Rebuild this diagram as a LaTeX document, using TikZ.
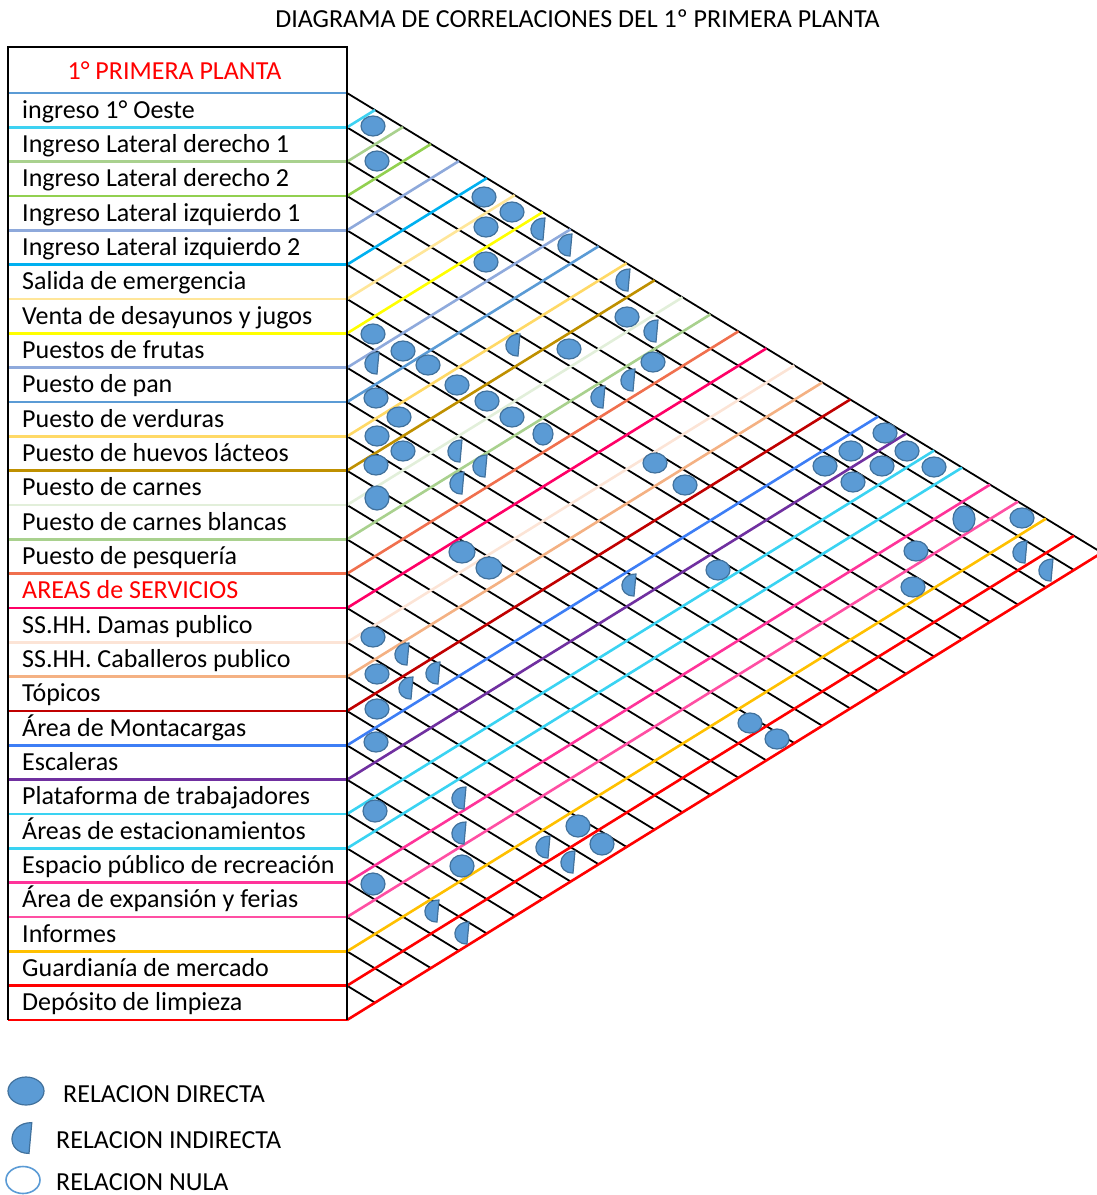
\documentclass[tikz,border=0pt]{standalone}
\usepackage{fontspec}
\setmainfont{Carlito}
\definecolor{symfill}{HTML}{5B9BD5}
\definecolor{symedge}{HTML}{41719C}
\definecolor{c0}{HTML}{5B9BD5}
\definecolor{c1}{HTML}{3ED2F2}
\definecolor{c2}{HTML}{A9D18E}
\definecolor{c3}{HTML}{92D050}
\definecolor{c4}{HTML}{8EA9DB}
\definecolor{c5}{HTML}{00B0F0}
\definecolor{c6}{HTML}{FFE699}
\definecolor{c7}{HTML}{FFFF00}
\definecolor{c8}{HTML}{8FAADC}
\definecolor{c9}{HTML}{5B9BD5}
\definecolor{c10}{HTML}{FFD966}
\definecolor{c11}{HTML}{BF9000}
\definecolor{c12}{HTML}{E2EFDA}
\definecolor{c13}{HTML}{A9D18E}
\definecolor{c14}{HTML}{F0704E}
\definecolor{c15}{HTML}{FF0066}
\definecolor{c16}{HTML}{FCE4D6}
\definecolor{c17}{HTML}{F4B183}
\definecolor{c18}{HTML}{C00000}
\definecolor{c19}{HTML}{3D7EF5}
\definecolor{c20}{HTML}{7030A0}
\definecolor{c21}{HTML}{3AD3F2}
\definecolor{c22}{HTML}{3AD3F2}
\definecolor{c23}{HTML}{FF3399}
\definecolor{c24}{HTML}{FF4FA3}
\definecolor{c25}{HTML}{FFC000}
\definecolor{c26}{HTML}{FF0000}
\definecolor{c27}{HTML}{FF0000}
\tikzset{
  sym/.style={fill=symfill,draw=symedge,line width=1.2pt},
  rowtxt/.style={anchor=base west,inner sep=0pt,font=\fontsize{26}{30}\selectfont},
  legtxt/.style={anchor=base west,inner sep=0pt,font=\fontsize{26}{30}\selectfont},
  blackgrid/.style={black,line width=1.8pt},
  colgrid/.style={line width=2.6pt},
  rowline/.style={line width=2.8pt},
  frame/.style={black,line width=1.8pt}
}
\newcommand\symD[2]{\path[sym] (#1,#2) ellipse [x radius=12pt,y radius=10pt];}
\newcommand\symDs[4]{\path[sym] (#1,#2) ellipse [x radius=#3pt,y radius=#4pt];}
\newcommand\symI[2]{\path[sym,shift={(#1,#2)}] (7,-11) -- (5,11) .. controls (-12,11) and (-11,-11) .. (7,-11) -- cycle;}
\begin{document}
\begin{tikzpicture}[x=1pt,y=-1pt]
\clip (0,0) rectangle (1097,1195);
\def\sa{0.609}
\def\sb{0.619}
% title
\node[anchor=base,inner sep=0pt,font=\fontsize{26}{30}\selectfont] (title) at (577.5,27) {DIAGRAMA DE CORRELACIONES DEL 1º PRIMERA PLANTA};
% grid: black lines going down-right
\foreach \j in {0,...,26}{
  \pgfmathsetmacro\yj{93+34.3333*\j}
  \pgfmathsetmacro\dx{(1020-\yj)/(\sa+\sb)}
  \pgfmathsetmacro\dy{\sa*\dx}
  \coordinate (b\j) at (347,\yj);
  \draw[blackgrid] (b\j) -- ++(\dx,\dy);
}
% grid: coloured lines going up-right
\foreach \j in {1,...,27}{
  \pgfmathsetmacro\yj{93+34.3333*\j}
  \pgfmathsetmacro\dx{(\yj-93)/(\sa+\sb)}
  \pgfmathsetmacro\dy{\sb*\dx}
  \coordinate (u\j) at (347,\yj);
  \draw[colgrid,color=c\j] (u\j) -- ++(\dx,-\dy);
}
% table row lines
\foreach \j in {0,...,27}{
  \pgfmathsetmacro\yj{93+34.3333*\j}
  \draw[rowline,color=c\j] (8,\yj) -- (347,\yj);
}
% frame
\draw[frame] (8,1020) -- (8,47) -- (347,47) -- (347,1020);
% header
\node[anchor=base,inner sep=0pt,font=\fontsize{26}{30}\selectfont,text=red] (head) at (174.5,79) {1° PRIMERA PLANTA};
% row labels
\foreach \i/\t in {1/{ingreso 1° Oeste},2/{Ingreso Lateral derecho 1},3/{Ingreso Lateral derecho 2},4/{Ingreso Lateral izquierdo 1},5/{Ingreso Lateral izquierdo 2},6/{Salida de emergencia},7/{Venta de desayunos y jugos},8/{Puestos de frutas},9/{Puesto de pan},10/{Puesto de verduras},11/{Puesto de huevos lácteos},12/{Puesto de carnes},13/{Puesto de carnes blancas},14/{Puesto de pesquería},16/{SS.HH. Damas publico},17/{SS.HH. Caballeros publico},18/{Tópicos},19/{Área de Montacargas},20/{Escaleras},21/{Plataforma de trabajadores},22/{Áreas de estacionamientos},23/{Espacio público de recreación},24/{Área de expansión y ferias},25/{Informes},26/{Guardianía de mercado},27/{Depósito de limpieza}}{
  \pgfmathsetmacro\yt{93+34.3333*(\i-0.5)+8}
  \node[rowtxt] (r\i) at (22,\yt) {\t};
}
\pgfmathsetmacro\yt{93+34.3333*14.5+8}
\node[rowtxt,text=red] (r15) at (22,\yt) {AREAS de SERVICIOS};
% direct relations
\symD{373}{126}\symD{377}{161}\symD{484}{197}\symD{512}{212}\symD{486}{227}
\symD{486}{262}\symD{627}{317}\symD{373}{334}\symD{403}{351}\symD{569}{349}
\symD{428}{365}\symD{653}{362}\symD{457}{385}\symD{376}{398}\symD{487}{401}
\symD{399}{417}\symD{512}{417}\symDs{543}{434}{10}{11}\symD{377}{436}\symD{403}{451}
\symD{376}{465}\symD{655}{463}\symD{685}{485}\symDs{377}{498}{12}{12}
\symDs{462}{552}{13}{11}\symDs{489}{568}{13}{11}
\symD{885}{433}\symD{851}{451}\symD{907}{451}\symD{825}{466}\symD{882}{466}
\symD{934}{467}\symD{853}{482}\symDs{964}{519}{11}{13}\symD{1022}{518}
\symD{916}{551}\symD{718}{570}\symD{913}{587}
\symD{373}{637}\symD{377}{674}\symD{377}{709}\symD{376}{742}
\symD{750}{723}\symD{777}{739}
\symDs{375}{811}{12}{11}\symDs{578}{826}{12}{11}\symDs{602}{844}{12}{11}
\symDs{462}{866}{12}{11}\symDs{373}{884}{12}{11}
% indirect relations
\symI{538}{229}\symI{565}{245}\symI{623}{280}\symI{651}{331}\symI{513}{345}
\symI{372}{363}\symI{628}{380}\symI{598}{397}\symI{455}{451}\symI{480}{466}
\symI{457}{483}\symI{629}{585}\symI{1020}{552}\symI{1046}{570}
\symI{402}{654}\symI{433}{673}\symI{406}{688}
\symI{459}{798}\symI{459}{833}\symI{543}{847}\symI{568}{862}
\symI{432}{911}\symI{462}{933}
% legend
\path[sym] (26,1091) ellipse [x radius=18pt,y radius=14pt];
\node[legtxt] (l1) at (63,1102) {RELACION DIRECTA};
\path[sym,shift={(22,1138)},scale=1.4] (7,-11) -- (5,11) .. controls (-12,11) and (-11,-11) .. (7,-11) -- cycle;
\node[legtxt] (l2) at (56,1148) {RELACION INDIRECTA};
\draw[symfill,line width=1.6pt] (23,1180) ellipse [x radius=17pt,y radius=13.5pt];
\node[legtxt] (l3) at (56,1190) {RELACION NULA};
\end{tikzpicture}
\end{document}
